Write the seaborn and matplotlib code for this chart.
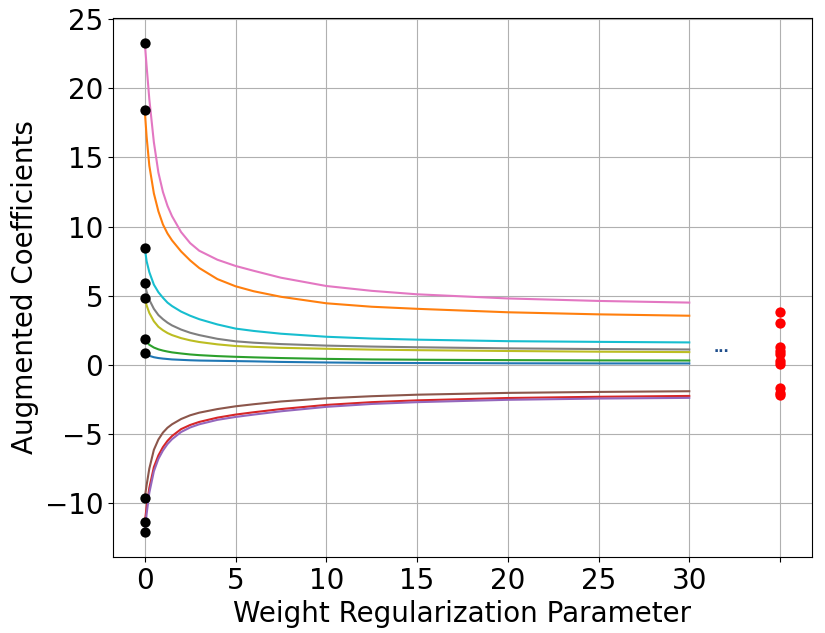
import numpy as np
import pandas as pd
import matplotlib
matplotlib.use("Agg")
import matplotlib.pyplot as plt
import seaborn as sns

# regularization values sampled along each path
lambdas = [0, 0.1, 0.25, 0.5, 0.75, 1, 1.25, 1.5, 2, 2.5, 3, 4, 5, 6, 7.5, 10, 12.5, 15, 20, 25, 30]

coef_0 = [0.85, 0.75, 0.65, 0.55, 0.49, 0.45, 0.42, 0.39, 0.36, 0.33, 0.31, 0.29, 0.27, 0.25, 0.21, 0.17, 0.14, 0.13, 0.11, 0.10, 0.10]
coef_1 = [18.4, 16.5, 14.4, 12.4, 11.1, 10.15, 9.5, 9.0, 8.2, 7.55, 7.0, 6.2, 5.68, 5.32, 4.92, 4.45, 4.2, 4.05, 3.8, 3.65, 3.55]
coef_2 = [1.85, 1.65, 1.45, 1.25, 1.12, 1.03, 0.96, 0.90, 0.82, 0.75, 0.70, 0.63, 0.58, 0.54, 0.49, 0.43, 0.39, 0.37, 0.34, 0.32, 0.31]
coef_3 = [-11.4, -10.3, -8.9, -7.4, -6.55, -5.95, -5.5, -5.15, -4.65, -4.35, -4.13, -3.82, -3.6, -3.43, -3.2, -2.9, -2.7, -2.57, -2.4, -2.31, -2.25]
coef_4 = [-12.1, -10.8, -9.25, -7.7, -6.8, -6.2, -5.73, -5.38, -4.86, -4.53, -4.3, -3.98, -3.77, -3.6, -3.36, -3.04, -2.83, -2.7, -2.53, -2.44, -2.39]
coef_5 = [-9.6, -8.7, -7.5, -6.15, -5.4, -4.9, -4.55, -4.3, -3.92, -3.65, -3.46, -3.2, -3.0, -2.85, -2.65, -2.42, -2.27, -2.16, -2.03, -1.96, -1.91]
coef_6 = [23.3, 21.6, 19.2, 16.1, 13.9, 12.5, 11.5, 10.75, 9.6, 8.8, 8.25, 7.6, 7.15, 6.8, 6.3, 5.7, 5.35, 5.1, 4.8, 4.62, 4.5]
coef_7 = [5.9, 5.3, 4.7, 4.05, 3.6, 3.3, 3.05, 2.85, 2.55, 2.32, 2.15, 1.88, 1.7, 1.6, 1.5, 1.39, 1.32, 1.27, 1.19, 1.14, 1.11]
coef_8 = [4.85, 4.3, 3.75, 3.15, 2.75, 2.5, 2.3, 2.15, 1.93, 1.77, 1.65, 1.48, 1.36, 1.3, 1.23, 1.16, 1.1, 1.06, 1.0, 0.95, 0.92]
coef_9 = [8.45, 7.5, 6.7, 5.8, 5.25, 4.85, 4.5, 4.25, 3.85, 3.55, 3.3, 2.92, 2.62, 2.45, 2.25, 2.03, 1.9, 1.82, 1.71, 1.66, 1.62]

# limit values shown at the far right
limit_x = 35
limits = [0.03, 2.99, 0.25, -2.05, -2.15, -1.64, 3.84, 1.0, 0.8, 1.28]

ellipsis_x = 31.8
ellipsis_y = 1.2

xtick_values = [0, 5, 10, 15, 20, 25, 30, 35]
xtick_labels = ["0", "5", "10", "15", "20", "25", "30", ""]
ytick_values = [-10, -5, 0, 5, 10, 15, 20, 25]


def build_frame():
    paths = [coef_0, coef_1, coef_2, coef_3, coef_4, coef_5, coef_6, coef_7, coef_8, coef_9]
    rows = []
    for i, vals in enumerate(paths):
        for lam, v in zip(lambdas, vals):
            rows.append({"lambda": lam, "coef": v, "series": f"c{i}"})
    return pd.DataFrame(rows), paths


def main():
    df, paths = build_frame()
    names = [f"c{i}" for i in range(10)]
    palette = dict(zip(names, sns.color_palette("tab10", 10)))

    fig, ax = plt.subplots(figsize=(8.25, 6.33), dpi=100)
    fig.subplots_adjust(left=0.137, right=0.984, top=0.972, bottom=0.12)

    sns.lineplot(data=df, x="lambda", y="coef", hue="series", hue_order=names,
                 palette=palette, legend=False, ax=ax, linewidth=1.5)

    # --- start points ---
    starts = pd.DataFrame({"lambda": [0] * len(paths), "coef": [p[0] for p in paths]})
    sns.scatterplot(data=starts, x="lambda", y="coef", color="black", s=55,
                    edgecolor="black", linewidth=0, ax=ax, zorder=5)

    # --- limits ---
    ends = pd.DataFrame({"lambda": [limit_x] * len(limits), "coef": limits})
    sns.scatterplot(data=ends, x="lambda", y="coef", color="red", s=55,
                    edgecolor="red", linewidth=0, ax=ax, zorder=5)

    ax.text(ellipsis_x, ellipsis_y, "...", color="#1f4e8c", fontsize=10,
            fontweight="bold", ha="center", va="center")

    ax.set_xticks(xtick_values)
    ax.set_xticklabels(xtick_labels)
    ax.set_yticks(ytick_values)
    ax.set_xlim(-1.75, 36.75)
    ax.set_ylim(-13.9, 25.1)
    ax.grid(True, color="#b0b0b0", linewidth=0.8)
    ax.tick_params(labelsize=20)
    ax.set_xlabel("Weight Regularization Parameter", fontsize=20)
    ax.set_ylabel("Augmented Coefficients", fontsize=20)

    plt.savefig("out.png", dpi=100)
    plt.close()


if __name__ == "__main__":
    main()
